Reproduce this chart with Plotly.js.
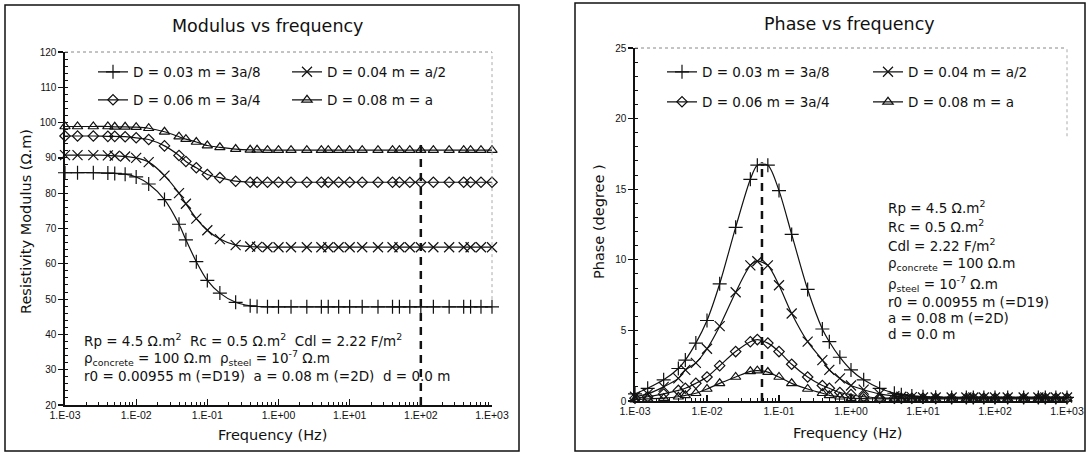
<!DOCTYPE html>
<html>
<head>
<meta charset="utf-8">
<script src="https://cdn.plot.ly/plotly-3.0.1.min.js"></script>
<style>
html,body{margin:0;padding:0;background:#fff;}
#chart{width:1087px;height:454px;}
</style>
</head>
<body>
<div id="chart"></div>
<script>
// ---------- DATA ----------
const freq = [0.001,0.0015,0.0025,0.004,0.005,0.007,
              0.01,0.015,0.025,0.04,0.05,0.07,
              0.1,0.15,0.25,0.4,0.5,0.7,
              1,1.5,2.5,4,5,7,
              10,15,25,40,50,70,
              100,150,250,400,500,700,
              1000];

const seriesNames = ["D = 0.03 m = 3a/8","D = 0.04 m = a/2","D = 0.06 m = 3a/4","D = 0.08 m = a"];

// Resistivity modulus (Ω.m)
const modA = [85.8,85.8,85.8,85.7,85.6,85.4,84.6,82.6,78.2,71.2,66.8,60.6,55.3,51.7,49.1,48.1,47.9,47.8,
              47.8,47.8,47.8,47.8,47.8,47.8,47.8,47.8,47.8,47.8,47.8,47.8,47.8,47.8,47.8,47.8,47.8,47.8,47.8];
const modB = [90.8,90.8,90.8,90.7,90.6,90.4,90.0,88.8,85.0,80.0,77.0,72.8,69.5,67.0,65.3,64.9,64.8,64.7,
              64.7,64.7,64.7,64.7,64.7,64.7,64.7,64.7,64.7,64.7,64.7,64.7,64.7,64.7,64.7,64.7,64.7,64.7,64.7];
const modC = [96.2,96.2,96.2,96.1,96.1,96.0,95.7,95.2,93.4,90.7,89.0,87.2,85.3,84.4,83.4,83.1,83.1,83.1,
              83.1,83.1,83.1,83.1,83.1,83.1,83.1,83.1,83.1,83.1,83.1,83.1,83.1,83.1,83.1,83.1,83.1,83.1,83.1];
const modD = [98.9,98.9,98.9,98.9,98.8,98.8,98.7,98.4,97.4,96.0,95.3,94.5,93.5,93.0,92.5,92.3,92.3,92.2,
              92.2,92.2,92.2,92.2,92.2,92.2,92.2,92.2,92.2,92.2,92.2,92.2,92.2,92.2,92.2,92.2,92.2,92.2,92.2];

// Phase (degree)
const phA = [0.5,0.9,1.5,2.3,2.9,4.1,5.7,8.3,12.3,15.7,16.7,16.7,14.9,11.8,7.9,5.1,4.2,3.1,2.2,1.5,0.9,0.55,0.45,0.35,0.3,0.27,
             0.25,0.25,0.25,0.25,0.25,0.25,0.25,0.25,0.25,0.25,0.25];
const phB = [0.3,0.5,1.0,1.6,2.2,2.7,3.7,5.3,7.7,9.6,9.9,9.6,8.2,6.2,4.2,2.9,2.2,1.6,1.1,0.8,0.5,0.35,0.3,0.27,0.25,
             0.25,0.25,0.25,0.25,0.25,0.25,0.25,0.25,0.25,0.25,0.25,0.25];
const phC = [0.2,0.3,0.5,0.75,0.9,1.25,1.7,2.5,3.5,4.2,4.35,4.1,3.5,2.6,1.7,1.1,0.9,0.6,0.45,0.3,0.22,0.2,
             0.2,0.2,0.2,0.2,0.2,0.2,0.2,0.2,0.2,0.2,0.2,0.2,0.2,0.2,0.2];
const phD = [0.1,0.15,0.2,0.3,0.4,0.55,0.85,1.25,1.7,2.1,2.15,2.05,1.7,1.25,0.85,0.55,0.4,0.3,0.2,0.17,0.15,
             0.15,0.15,0.15,0.15,0.15,0.15,0.15,0.15,0.15,0.15,0.15,0.15,0.15,0.15,0.15,0.15];

// reference (dashed) markers
const modRefFreq = [100,100];
const modRefVal  = [20,94];
const phRefFreq  = [0.058,0.058];
const phRefVal   = [0,16.9];

const xTickVals = [0.001,0.01,0.1,1,10,100,1000];
const xTickText = ["1.E-03","1.E-02","1.E-01","1.E+00","1.E+01","1.E+02","1.E+03"];

// ---------- STYLE ----------
const FONT = "DejaVu Sans, Liberation Sans, Arial, sans-serif";
const TICKFONT = "Liberation Sans, Arial, sans-serif";
const INK = "#111";
const W = 1087, H = 454;
const px = v => v / W;
const py = v => 1 - v / H;

const symbols = [
  {symbol:"cross-thin", size:10},
  {symbol:"x-thin", size:10},
  {symbol:"diamond-open", size:8},
  {symbol:"triangle-up-open", size:9}
];

function mk(x, y, i, xa, ya, legend){
  return {
    x:x, y:y, xaxis:xa, yaxis:ya, type:"scatter", mode:"lines+markers",
    name:seriesNames[i], legend:legend, cliponaxis:false,
    line:{color:INK, width:1.2, shape:"spline", smoothing:0.8},
    marker:{symbol:symbols[i].symbol, size:symbols[i].size, color:INK,
            line:{color:INK, width:1.2}}
  };
}

const traces = [
  mk(freq, modA, 0, "x", "y", "legend"),
  mk(freq, modB, 1, "x", "y", "legend2"),
  mk(freq, modC, 2, "x", "y", "legend3"),
  mk(freq, modD, 3, "x", "y", "legend4"),
  mk(freq, phA, 0, "x2", "y2", "legend5"),
  mk(freq, phB, 1, "x2", "y2", "legend6"),
  mk(freq, phC, 2, "x2", "y2", "legend7"),
  mk(freq, phD, 3, "x2", "y2", "legend8"),
  {x:modRefFreq, y:modRefVal, xaxis:"x", yaxis:"y", mode:"lines", showlegend:false,
   line:{color:INK, width:2.5, dash:"8px,6px"}},
  {x:phRefFreq, y:phRefVal, xaxis:"x2", yaxis:"y2", mode:"lines", showlegend:false,
   line:{color:INK, width:2.5, dash:"8px,6px"}}
];

// minor tick positions on log axes
const minorX = [];
for (let e = -3; e < 3; e++) for (let m = 2; m <= 9; m++) minorX.push(m * Math.pow(10, e));

function xAxis(domain, anchor){
  return {
    type:"log", range:[-3,3], domain:domain, anchor:anchor,
    tickmode:"array", tickvals:xTickVals, ticktext:xTickText,
    ticks:"inside", ticklen:6, tickwidth:1.2, tickcolor:INK,
    showline:true, linecolor:INK, linewidth:1.6, showgrid:false, zeroline:false,
    tickfont:{family:TICKFONT, size:10.5, color:INK},
    minor:{tickmode:"array", tickvals:minorX, ticks:"inside", ticklen:3, tickcolor:INK, tickwidth:1, showgrid:false}
  };
}
function yAxis(domain, anchor, range, dtick, mdtick){
  return {
    range:range, domain:domain, anchor:anchor, dtick:dtick,
    ticks:"outside", ticklen:5, tickwidth:1.2, tickcolor:INK,
    showline:true, linecolor:INK, linewidth:1.6, showgrid:false, zeroline:false,
    tickfont:{family:TICKFONT, size:10, color:INK},
    minor:{dtick:mdtick, ticks:"inside", ticklen:3, tickcolor:INK, tickwidth:1, showgrid:false}
  };
}

// one single-entry legend per series so each sits exactly where the reference has it
function legendAt(x, y){
  return {
    orientation:"h", x:px(x), y:py(y), xref:"paper", yref:"paper",
    xanchor:"left", yanchor:"middle", bgcolor:"rgba(0,0,0,0)", borderwidth:0,
    itemwidth:30, font:{family:FONT, size:13.5, color:INK}
  };
}

function ann(x, y, text, size, opts){
  return Object.assign({
    x:px(x), y:py(y), xref:"paper", yref:"paper", text:text, showarrow:false,
    xanchor:"left", yanchor:"middle",
    font:{family:FONT, size:size, color:INK}
  }, opts || {});
}

const S = "&nbsp;&nbsp;";
const annotations = [
  ann(267, 26, "Modulus vs frequency", 17.5, {xanchor:"center"}),
  ann(849, 24, "Phase vs frequency", 17.5, {xanchor:"center"}),
  ann(272, 435, "Frequency (Hz)", 14.5, {xanchor:"center"}),
  ann(847, 433, "Frequency (Hz)", 14.5, {xanchor:"center"}),
  ann(26, 222, "Resistivity Modulus (Ω.m)", 14.5, {xanchor:"center", textangle:-90}),
  ann(599, 222, "Phase (degree )", 14.5, {xanchor:"center", textangle:-90}),
  // left parameter block
  ann(82, 340, "Rp = 4.5 Ω.m<sup>2</sup>" + S + "Rc = 0.5 Ω.m<sup>2</sup>" + S + "Cdl = 2.22 F/m<sup>2</sup>", 13.5),
  ann(82, 358, "ρ<sub>concrete</sub> = 100 Ω.m" + S + "ρ<sub>steel</sub> = 10<sup>-7</sup> Ω.m", 13.5),
  ann(82, 376, "r0 = 0.00955 m (=D19)" + S + "a = 0.08 m (=2D)" + S + "d = 0.0 m", 13.5),
  // right parameter block
  ann(886, 207, "Rp = 4.5 Ω.m<sup>2</sup>", 13.5),
  ann(886, 226, "Rc = 0.5 Ω.m<sup>2</sup>", 13.5),
  ann(886, 245, "Cdl = 2.22 F/m<sup>2</sup>", 13.5),
  ann(886, 264, "ρ<sub>concrete</sub> = 100 Ω.m", 13.5),
  ann(886, 284, "ρ<sub>steel</sub> = 10<sup>-7</sup> Ω.m", 13.5),
  ann(886, 302, "r0 = 0.00955 m (=D19)", 13.5),
  ann(886, 318, "a = 0.08 m (=2D)", 13.5),
  ann(886, 334, "d = 0.0 m", 13.5)
];

const shapes = [
  // panel frames
  {type:"rect", xref:"paper", yref:"paper", x0:px(5), x1:px(519), y0:py(451), y1:py(5),
   line:{color:INK, width:1.5}},
  {type:"rect", xref:"paper", yref:"paper", x0:px(575), x1:px(1085), y0:py(451), y1:py(3),
   line:{color:INK, width:1.5}},
  // faint dotted top / right plot borders
  {type:"line", xref:"x domain", yref:"y domain", x0:0, x1:1, y0:1, y1:1, line:{color:"#888", width:1, dash:"dot"}},
  {type:"line", xref:"x domain", yref:"y domain", x0:1, x1:1, y0:0.3, y1:1, line:{color:"#aaa", width:1, dash:"dot"}},
  {type:"line", xref:"x2 domain", yref:"y2 domain", x0:0, x1:1, y0:1, y1:1, line:{color:"#888", width:1, dash:"dot"}},
  {type:"line", xref:"x2 domain", yref:"y2 domain", x0:1, x1:1, y0:0.75, y1:1, line:{color:"#aaa", width:1, dash:"dot"}}
];

const layout = {
  width:W, height:H, margin:{l:0,r:0,t:0,b:0},
  paper_bgcolor:"#fff", plot_bgcolor:"#fff",
  font:{family:FONT, color:INK},
  xaxis: xAxis([px(65), px(492)], "y"),
  yaxis: yAxis([1-405/H, 1-52/H], "x", [20,120], 10, 2),
  xaxis2: xAxis([px(635), px(1067)], "y2"),
  yaxis2: yAxis([1-401/H, 1-48/H], "x2", [0,25], 5, 1),
  legend:  legendAt(93, 72),
  legend2: legendAt(287, 72),
  legend3: legendAt(93, 100),
  legend4: legendAt(287, 100),
  legend5: legendAt(662, 72),
  legend6: legendAt(868, 72),
  legend7: legendAt(662, 102),
  legend8: legendAt(868, 102),
  annotations:annotations,
  shapes:shapes,
  showlegend:true
};

Plotly.newPlot("chart", traces, layout, {staticPlot:true, displayModeBar:false});
</script>
</body>
</html>
